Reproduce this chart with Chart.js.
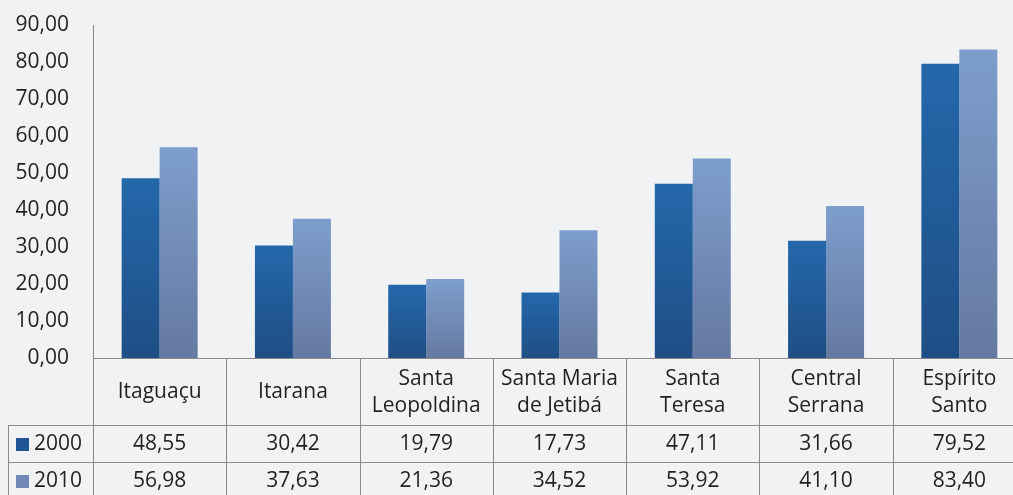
<!DOCTYPE html>
<html>
<head>
<meta charset="utf-8">
<script src="https://cdn.jsdelivr.net/npm/chart.js@4"></script>
<style>
  html, body { margin: 0; padding: 0; background: #f1f2f4; overflow: hidden; }
  #wrap { width: 1026px; height: 495px; }
</style>
</head>
<body>
<div id="wrap"><canvas id="c" width="1026" height="495"></canvas></div>
<script>
const categories = [["Itaguaçu"], ["Itarana"], ["Santa", "Leopoldina"], ["Santa Maria", "de Jetibá"], ["Santa", "Teresa"], ["Central", "Serrana"], ["Espírito", "Santo"]];
const seriesNames = ["2000", "2010"];
const values2000 = [48.55, 30.42, 19.79, 17.73, 47.11, 31.66, 79.52];
const values2010 = [56.98, 37.63, 21.36, 34.52, 53.92, 41.10, 83.40];
const yMin = 0, yMax = 90, yStep = 10;

const FONT = '"Open Sans", "Noto Sans", sans-serif';
const TXT = '#231f20';
const LINE = '#8a8a8a';
const colors = [
  { top: '#2468ab', bot: '#1f4e85', legend: '#1f5594' },
  { top: '#7d9ecd', bot: '#6579a0', legend: '#7189b6' }
];

function fmt(v) { return v.toFixed(2).replace('.', ','); }

function gradientFor(idx) {
  return function (ctx) {
    const chart = ctx.chart;
    const y = chart.scales && chart.scales.y;
    if (!y || ctx.type !== 'data') return colors[idx].top;
    const top = y.getPixelForValue(ctx.raw);
    const bot = y.getPixelForValue(0);
    if (!isFinite(top) || !isFinite(bot) || top === bot) return colors[idx].top;
    const g = chart.ctx.createLinearGradient(0, top, 0, bot);
    g.addColorStop(0, colors[idx].top);
    g.addColorStop(1, colors[idx].bot);
    return g;
  };
}

const tablePlugin = {
  id: 'dataTable',
  afterDraw(chart) {
    const c = chart.ctx;
    const x = chart.scales.x;
    const area = chart.chartArea;
    const W = chart.width, H = chart.height;
    const n = categories.length;
    const cw = x.getPixelForValue(1) - x.getPixelForValue(0);
    const labelRowH = 67, dataRowH = 37;
    const r1 = area.bottom + labelRowH;
    const r2 = r1 + dataRowH;
    const r3 = r2 + dataRowH;
    const legendLeft = 8;
    c.save();
    c.strokeStyle = LINE;
    c.lineWidth = 1;
    const hline = (x0, x1, yy) => { c.beginPath(); c.moveTo(x0, Math.round(yy) + 0.5); c.lineTo(x1, Math.round(yy) + 0.5); c.stroke(); };
    const vline = (xx, y0, y1) => { c.beginPath(); c.moveTo(Math.round(xx) + 0.5, y0); c.lineTo(Math.round(xx) + 0.5, y1); c.stroke(); };
    hline(area.left, W, area.bottom);
    hline(legendLeft, W, r1);
    hline(legendLeft, W, r2);
    hline(legendLeft, W, r3);
    vline(area.left, area.bottom, H);
    vline(legendLeft, r1, H);
    for (let i = 0; i < n; i++) {
      const b = x.getPixelForValue(i) + cw / 2;
      vline(b, area.bottom, H);
    }
    c.fillStyle = TXT;
    c.font = '21px ' + FONT;
    c.textAlign = 'center';
    c.textBaseline = 'middle';
    const lh = 27;
    categories.forEach((lines, i) => {
      const cx = x.getPixelForValue(i);
      const mid = area.bottom + labelRowH / 2 + 1;
      const start = mid - (lines.length - 1) * lh / 2;
      lines.forEach((t, k) => c.fillText(t, cx, start + k * lh));
    });
    const rows = [values2000, values2010];
    const rowMids = [r1 + dataRowH / 2 + 1, r2 + dataRowH / 2 + 1];
    rows.forEach((vals, ri) => {
      vals.forEach((v, i) => {
        c.fillText(fmt(v), x.getPixelForValue(i), rowMids[ri]);
      });
      c.fillStyle = colors[ri].legend;
      c.fillRect(16, Math.round(rowMids[ri] - 7), 13, 13);
      c.fillStyle = TXT;
      c.textAlign = 'left';
      c.fillText(seriesNames[ri], 34, rowMids[ri]);
      c.textAlign = 'center';
    });
    c.restore();
  }
};

new Chart(document.getElementById('c'), {
  type: 'bar',
  data: {
    labels: categories.map(l => l.join(' ')),
    datasets: [
      { label: seriesNames[0], data: values2000, backgroundColor: gradientFor(0), borderWidth: 0 },
      { label: seriesNames[1], data: values2010, backgroundColor: gradientFor(1), borderWidth: 0 }
    ]
  },
  options: {
    responsive: false,
    animation: false,
    events: [],
    layout: { padding: { top: 25, bottom: 137, left: 0, right: 0 } },
    datasets: { bar: { barPercentage: 1, categoryPercentage: 0.57 } },
    plugins: { legend: { display: false }, tooltip: { enabled: false } },
    scales: {
      x: { display: false, offset: true },
      y: {
        min: yMin, max: yMax,
        grid: { display: false, drawTicks: false },
        border: { display: true, color: LINE, width: 1 },
        ticks: {
          stepSize: yStep,
          padding: 24,
          color: TXT,
          font: { family: FONT, size: 21 },
          callback: v => fmt(v)
        },
        afterFit(scale) { scale.width = 93; scale.paddingTop = 0; scale.paddingBottom = 0; }
      }
    }
  },
  plugins: [tablePlugin]
});
</script>
</body>
</html>
